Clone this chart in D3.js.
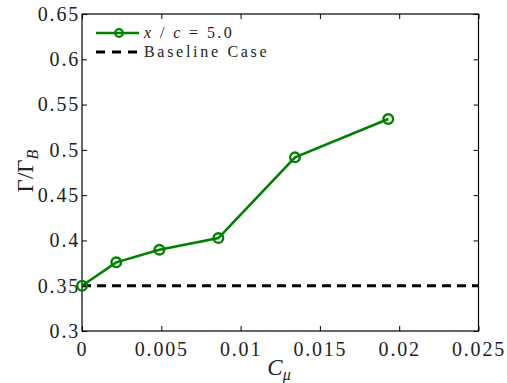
<!DOCTYPE html>
<html>
<head>
<meta charset="utf-8">
<script src="https://cdn.jsdelivr.net/npm/d3@7"></script>
<style>
  body { margin: 0; background: #fff; }
</style>
</head>
<body>
<svg width="507" height="383"></svg>
<script>
// Data
var cmu = [0, 0.00216, 0.00488, 0.0086, 0.01343, 0.01931];
var gamma = [0.350, 0.3758, 0.3897, 0.4026, 0.4917, 0.534];
var baseline = 0.35;
var xTicks = [0, 0.005, 0.01, 0.015, 0.02, 0.025];
var yTicks = [0.3, 0.35, 0.4, 0.45, 0.5, 0.55, 0.6, 0.65];

var serif = "'Liberation Serif'";
var svg = d3.select("svg");
var margin = {left: 82, right: 28.5, top: 14, bottom: 52};
var width = 507 - margin.left - margin.right,
    height = 383 - margin.top - margin.bottom;

var x = d3.scaleLinear().domain([0, 0.025]).range([0, width]);
var y = d3.scaleLinear().domain([0.3, 0.65]).range([height, 0]);

var g = svg.append("g").attr("transform", "translate(" + margin.left + "," + margin.top + ")");

// frame
g.append("rect").attr("width", width).attr("height", height)
  .attr("fill", "none").attr("stroke", "#000").attr("stroke-width", 1.2);

var fmt = function(d) { return String(+d.toFixed(3)); };

// axes, ticks pointing inward (mirrored on top and right)
var xa = g.append("g").attr("transform", "translate(0," + height + ")")
  .call(d3.axisBottom(x).tickValues(xTicks).tickSize(-5).tickPadding(11).tickFormat(fmt));
var ya = g.append("g")
  .call(d3.axisLeft(y).tickValues(yTicks).tickSize(-5).tickPadding(2).tickFormat(fmt));
g.append("g").call(d3.axisTop(x).tickValues(xTicks).tickSize(-5).tickFormat(""));
g.append("g").attr("transform", "translate(" + width + ",0)")
  .call(d3.axisRight(y).tickValues(yTicks).tickSize(-5).tickFormat(""));
g.selectAll(".domain").remove();
g.selectAll(".tick line").attr("stroke", "#000");
g.selectAll(".tick text").attr("fill", "#222")
  .style("font-family", serif).style("font-size", "20px").style("letter-spacing", "1.8px");

// baseline
g.append("line")
  .attr("x1", x(0)).attr("x2", width)
  .attr("y1", y(baseline)).attr("y2", y(baseline))
  .attr("stroke", "#000").attr("stroke-width", 3).attr("stroke-dasharray", "9,6");

// series
var pts = cmu.map(function(d, i) { return [d, gamma[i]]; });
g.append("path").datum(pts)
  .attr("fill", "none").attr("stroke", "#008000").attr("stroke-width", 2.6)
  .attr("d", d3.line().x(function(d) { return x(d[0]); }).y(function(d) { return y(d[1]); }));
g.selectAll(".pt").data(pts).enter().append("circle")
  .attr("cx", function(d) { return x(d[0]); })
  .attr("cy", function(d) { return y(d[1]); })
  .attr("r", 4.8).attr("fill", "none").attr("stroke", "#008000").attr("stroke-width", 2.4);

// legend
var leg = svg.append("g");
leg.append("line").attr("x1", 96).attr("x2", 139).attr("y1", 33).attr("y2", 33)
  .attr("stroke", "#008000").attr("stroke-width", 2.6);
leg.append("circle").attr("cx", 119).attr("cy", 33).attr("r", 3.8)
  .attr("fill", "none").attr("stroke", "#008000").attr("stroke-width", 2.2);
leg.append("line").attr("x1", 96).attr("x2", 141).attr("y1", 52).attr("y2", 52)
  .attr("stroke", "#000").attr("stroke-width", 3).attr("stroke-dasharray", "9,7");
var t1 = leg.append("text").attr("x", 144).attr("y", 38)
  .style("font-family", serif).style("font-size", "16px")
  .style("letter-spacing", "2.4px").attr("fill", "#222");
t1.append("tspan").style("font-style", "italic").text("x");
t1.append("tspan").text(" / ");
t1.append("tspan").style("font-style", "italic").text("c");
t1.append("tspan").text(" = 5.0");
leg.append("text").attr("x", 144).attr("y", 57)
  .style("font-family", serif).style("font-size", "16px")
  .style("letter-spacing", "2.7px").attr("fill", "#222").text("Baseline Case");

// axis labels
var xl = svg.append("text").attr("x", 279).attr("y", 375).attr("text-anchor", "middle")
  .style("font-family", serif).style("font-size", "23px").attr("fill", "#222");
xl.append("tspan").style("font-style", "italic").text("C");
xl.append("tspan").attr("dy", 5).style("font-size", "16px").style("font-style", "italic").text("μ");

var yl = svg.append("text").attr("transform", "translate(33,171) rotate(-90)")
  .attr("text-anchor", "middle").style("font-family", serif)
  .style("font-size", "23px").attr("fill", "#222");
yl.append("tspan").text("Γ/Γ");
yl.append("tspan").attr("dy", 5).style("font-size", "16px").style("font-style", "italic").text("B");
</script>
</body>
</html>
